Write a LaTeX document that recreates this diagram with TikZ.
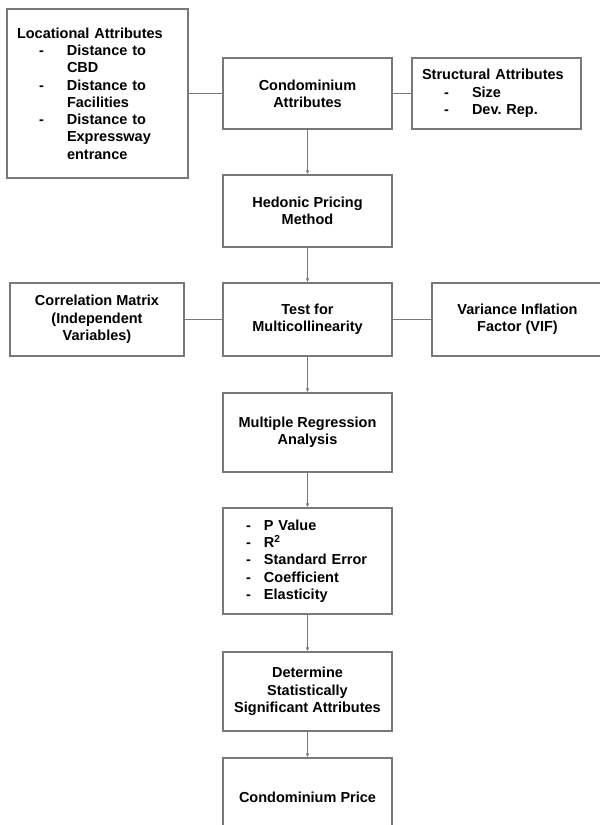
\documentclass[tikz,border=0pt]{standalone}
\usepackage{fontspec}
\setmainfont{Liberation Sans}
\usetikzlibrary{
  positioning,arrows.meta
}
\definecolor{boxline}{RGB}{120,120,120}
\newcommand{\ditem}[1]{\hspace*{22pt}\makebox[28pt][l]{-}#1}
\newcommand{\dcont}[1]{\hspace*{50pt}#1}
\newcommand{\litem}[1]{\makebox[18pt][l]{-}#1}
\frenchspacing

\begin{document}
\begin{tikzpicture}[x=1pt,y=-1pt,
  box/.style={draw=boxline,line width=1.2pt,align=center,
    font=\fontsize{14.5}{17.3}\selectfont\bfseries,
    minimum width=169pt,inner sep=0pt},
  listbox/.style={box,align=left},
  link/.style={draw=boxline,line width=1.2pt},
  flow/.style={link,-{Latex[length=4pt,width=3.5pt]}}
]
\useasboundingbox (0,0) rectangle (600,825);

% main column
\node[box,minimum height=71pt] (cond) at (307.5,93.5) {Condominium\\Attributes};
\node[box,minimum height=72pt] (hedonic) at (307.5,211) {Hedonic Pricing\\Method};
\node[box,minimum height=73pt] (multicol) at (307.5,319.5) {Test for\\Multicollinearity};
\node[box,minimum height=79pt] (regress) at (307.5,432.5) {Multiple Regression\\Analysis};
\node[listbox,minimum height=106pt,inner xsep=23pt,text width=123pt] (stats) at (307.5,561)
  {\litem{P Value}\\\litem{R\textsuperscript{2}}\\\litem{Standard Error}\\\litem{Coefficient}\\\litem{Elasticity}};
\node[box,minimum height=79pt] (signif) at (307.5,691.5) {Determine\\Statistically\\Significant Attributes};
\node[box,minimum height=79pt] (price) at (307.5,797.5) {Condominium Price};

% side boxes
\node[listbox,minimum height=169pt,inner xsep=10pt,text width=161pt] (locational) at (97.5,93.5)
  {Locational Attributes\\\ditem{Distance to}\\\dcont{CBD}\\\ditem{Distance to}\\\dcont{Facilities}\\\ditem{Distance to}\\\dcont{Expressway}\\\dcont{entrance}};
\node[listbox,minimum height=71pt,inner xsep=10pt,text width=149pt] (structural) at (496.5,93.5)
  {Structural Attributes\\\ditem{Size}\\\ditem{Dev. Rep.}};
\node[box,minimum height=73pt,minimum width=174pt] (corr) at (97,319.5) {Correlation Matrix\\(Independent\\Variables)};
\node[box,minimum height=73pt,minimum width=171pt] (vif) at (517.5,319.5) {Variance Inflation\\Factor (VIF)};

% connectors
\draw[link] (locational) -- (cond);
\draw[link] (cond) -- (structural);
\draw[link] (corr) -- (multicol);
\draw[link] (multicol) -- (vif);
\draw[flow] (cond) -- (hedonic);
\draw[flow] (hedonic) -- (multicol);
\draw[flow] (multicol) -- (regress);
\draw[flow] (regress) -- (stats);
\draw[flow] (stats) -- (signif);
\draw[flow] (signif) -- (price);
\end{tikzpicture}
\end{document}
